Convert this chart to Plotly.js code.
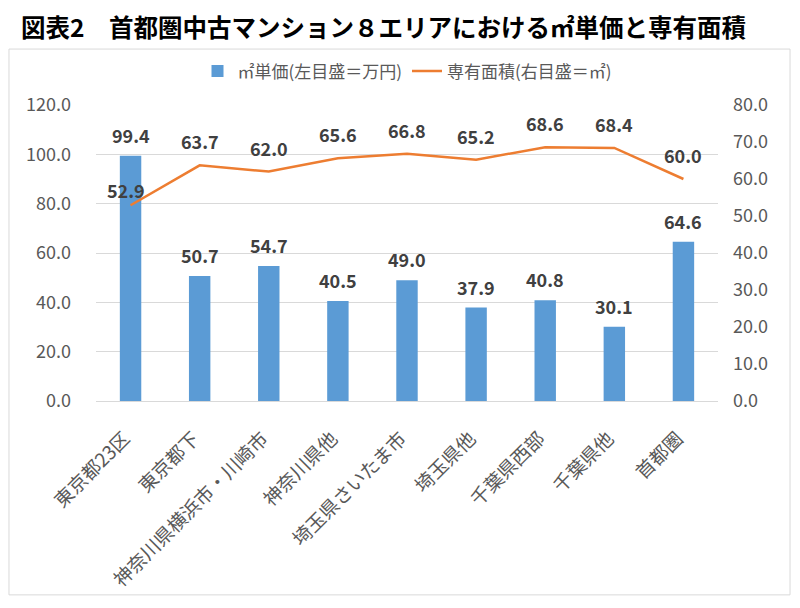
<!DOCTYPE html>
<html><head><meta charset="utf-8">
<script src="https://cdn.plot.ly/plotly-3.0.1.min.js"></script>
<style>body{margin:0;background:#fff}#c{width:800px;height:608px}</style>
</head><body><div id="c"></div>
<script>
const categories = ["東京都23区","東京都下","神奈川県横浜市・川崎市","神奈川県他","埼玉県さいたま市","埼玉県他","千葉県西部","千葉県他","首都圏"];
const unitPrice = [99.4, 50.7, 54.7, 40.5, 49.0, 37.9, 40.8, 30.1, 64.6];
const floorArea = [52.9, 63.7, 62.0, 65.6, 66.8, 65.2, 68.6, 68.4, 60.0];
const leftTicks = [0,20,40,60,80,100,120];
const rightTicks = [0,10,20,30,40,50,60,70,80];

const FONT = '"Noto Sans CJK JP", "Noto Sans", sans-serif';
const grey = '#595959';

const traces = [
  {type:'bar', x:categories, y:unitPrice, name:'㎡単価(左目盛＝万円)', marker:{color:'#5b9bd5'}, width:0.31, yaxis:'y', hoverinfo:'none'},
  {type:'scatter', mode:'lines', x:categories, y:floorArea, name:'専有面積(右目盛＝㎡)', line:{color:'#ed7d31', width:2.5}, yaxis:'y2', hoverinfo:'none'}
];

const ann = [];
categories.forEach((c,i)=>{
  ann.push({x:c, y:unitPrice[i], xref:'x', yref:'y', text:unitPrice[i].toFixed(1), showarrow:false, yshift:21, font:{family:FONT, size:18, color:'#404040', weight:'bold'}});
  // first line label sits closer to its point (label moved in original)
  const ys = i === 0 ? 15 : 24, xs = i === 0 ? -5 : 0;
  ann.push({x:c, y:floorArea[i], xref:'x', yref:'y2', text:floorArea[i].toFixed(1), showarrow:false, yshift:ys, xshift:xs, font:{family:FONT, size:18, color:'#404040', weight:'bold'}});
});
ann.push({xref:'paper', yref:'paper', x:-0.124, y:1.265, xanchor:'left', yanchor:'middle', showarrow:false,
  text:'図表2　首都圏中古マンション８エリアにおける㎡単価と専有面積', font:{family:FONT, size:24.5, color:'#000', weight:'bold'}});

const layout = {
  width:800, height:608,
  margin:{l:96, r:82, t:105, b:207},
  paper_bgcolor:'#fff', plot_bgcolor:'#fff',
  font:{family:FONT, color:grey},
  showlegend:true,
  legend:{orientation:'h', x:0.5, xanchor:'center', y:1.113, yanchor:'middle', font:{family:FONT, size:17, color:grey}, itemwidth:30, tracegroupgap:0},
  bargap:0.69,
  xaxis:{type:'category', tickangle:-45, tickfont:{family:FONT, size:19, color:grey}, showline:true, linecolor:'#d9d9d9', linewidth:1, ticks:'', showgrid:false, ticklabelstandoff:18, ticklabelshift:-6, fixedrange:true},
  yaxis:{range:[0,120], tickvals:leftTicks, ticktext:leftTicks.map(v=>v.toFixed(1)), tickfont:{family:FONT, size:18, color:grey}, showgrid:true, gridcolor:'#d9d9d9', zeroline:false, ticks:'', ticklabelstandoff:24, fixedrange:true},
  yaxis2:{range:[0,80], overlaying:'y', side:'right', tickvals:rightTicks, ticktext:rightTicks.map(v=>v.toFixed(1)), tickfont:{family:FONT, size:18, color:grey}, showgrid:false, zeroline:false, ticks:'', ticklabelstandoff:14, fixedrange:true},
  annotations:ann,
  shapes:[{type:'rect', xref:'paper', yref:'paper', x0:-0.1399, x1:1.1158, y0:-0.655, y1:1.189, line:{color:'#d9d9d9', width:1}, layer:'below'}]
};
Plotly.newPlot('c', traces, layout, {displayModeBar:false, staticPlot:true});
</script></body></html>
